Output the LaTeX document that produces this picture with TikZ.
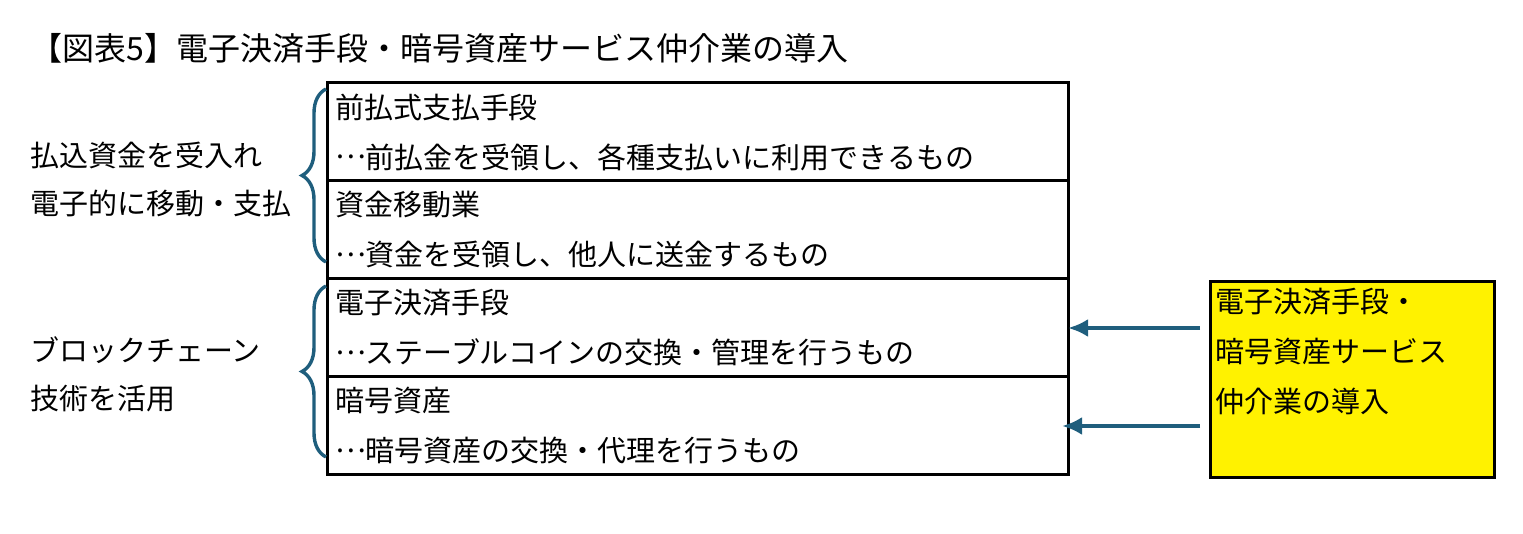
\documentclass[tikz,border=0pt]{standalone}
\usepackage{fontspec}
\newfontfamily\jp{Noto Sans CJK JP}
\newcommand\ldotsjp{\raisebox{0.32em}{…}}
\usetikzlibrary{positioning,calc,decorations.pathreplacing,arrows.meta}
\definecolor{braceblue}{RGB}{31,94,125}

\begin{document}
\begin{tikzpicture}[x=0.5pt,y=-0.5pt,
	row/.style={draw=black, line width=1.5pt, outer sep=0pt, minimum width=370.5pt, minimum height=49pt, inner xsep=4pt, inner ysep=0pt, text width=362.5pt, align=left, font=\jp\fontsize{14.5}{25}\selectfont},
	side/.style={anchor=west, align=left, inner sep=0pt, font=\jp\fontsize{14.5}{24}\selectfont},
	brace/.style={draw=braceblue, line width=1.7pt, decorate, decoration={brace, amplitude=12pt, aspect=0.5}},
	arr/.style={draw=braceblue, line width=2.2pt, -{Latex[length=10pt,width=9pt]}}]
	\useasboundingbox (0,0) rectangle (1523,534);
	
	\node[anchor=west, inner sep=0pt, font=\jp\fontsize{16}{16}\selectfont] (title) at (30,48) {【図表5】電子決済手段・暗号資産サービス仲介業の導入};
	
	% rows of the table
	\node[row, anchor=north west] (r1) at (327,83) {前払式支払手段\\\ldotsjp 前払金を受領し、各種支払いに利用できるもの};
	\node[row, below=0pt of r1] (r2) {資金移動業\\\ldotsjp 資金を受領し、他人に送金するもの};
	\node[row, below=0pt of r2] (r3) {電子決済手段\\\ldotsjp ステーブルコインの交換・管理を行うもの};
	\node[row, below=0pt of r3] (r4) {暗号資産\\\ldotsjp 暗号資産の交換・代理を行うもの};
	
	% labels on the left
	\node[side] (fund) at (30,179) {払込資金を受入れ\\電子的に移動・支払};
	\node[side] (chain) at (30,374) {ブロックチェーン\\技術を活用};
	\draw[brace] (326,262) -- (326,89);
	\draw[brace] (326,457) -- (326,286);
	
	% new service
	\node[draw=black, fill=yellow, line width=1.5pt, anchor=north west, minimum width=142pt, minimum height=98pt, inner sep=0pt] (svc) at (1209,280) {};
	\node[anchor=north west, align=left, inner xsep=3pt, inner ysep=4pt, font=\jp\fontsize{14.5}{25}\selectfont] (svctext) at (svc.north west) {電子決済手段・\\暗号資産サービス\\仲介業の導入};
	\draw[arr] ([xshift=-4.5pt]r3.east -| svc.west) -- (r3.east);
	\draw[arr] ([xshift=-4.5pt]r4.east -| svc.west) -- ([xshift=-3pt]r4.east);
\end{tikzpicture}
\end{document}
